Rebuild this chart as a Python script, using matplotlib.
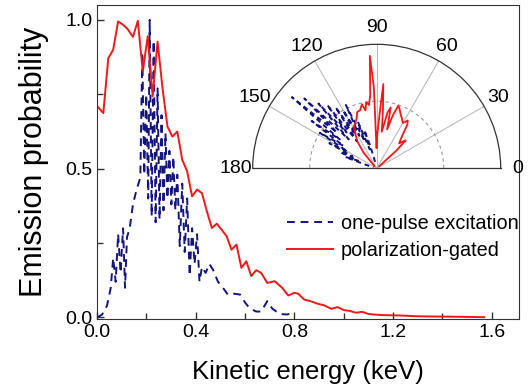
import numpy as np
import matplotlib.pyplot as plt

plt.rcParams['font.family'] = ['Liberation Sans', 'DejaVu Sans']

# main panel: emission probability vs kinetic energy
red_e = [0.0, 0.025, 0.045, 0.065, 0.085, 0.105, 0.125, 0.145, 0.165, 0.185,
         0.205, 0.225, 0.245, 0.265, 0.285, 0.305, 0.325, 0.345, 0.365, 0.385,
         0.405, 0.425, 0.445, 0.465, 0.485, 0.505, 0.525, 0.545, 0.565, 0.585,
         0.605, 0.625, 0.645, 0.665, 0.69, 0.72, 0.75, 0.775, 0.8, 0.815,
         0.84, 0.865, 0.895, 0.92, 0.95, 0.975, 1.0, 1.025, 1.05, 1.075,
         1.1, 1.12, 1.16, 1.22, 1.3, 1.4, 1.5, 1.57]
red_p = [0.71, 0.687, 0.871, 0.90, 0.995, 0.984, 0.968, 0.943, 0.997, 0.827,
         0.945, 0.743, 0.927, 0.771, 0.642, 0.608, 0.625, 0.53, 0.491, 0.407,
         0.43, 0.418, 0.357, 0.301, 0.315, 0.295, 0.273, 0.228, 0.245, 0.167,
         0.189, 0.139, 0.159, 0.15, 0.116, 0.122, 0.10, 0.074, 0.083, 0.08,
         0.06, 0.055, 0.046, 0.041, 0.029, 0.035, 0.025, 0.022, 0.016, 0.019,
         0.012, 0.010, 0.008, 0.007, 0.004, 0.003, 0.002, 0.001]

blue_e = [0.0, 0.02, 0.04, 0.055, 0.065, 0.075, 0.085, 0.095, 0.105, 0.113,
          0.121, 0.132, 0.145, 0.16, 0.175, 0.183, 0.191, 0.199, 0.207, 0.213,
          0.221, 0.229, 0.237, 0.245, 0.253, 0.261, 0.269, 0.277, 0.285, 0.293,
          0.301, 0.309, 0.317, 0.325, 0.335, 0.345, 0.355, 0.365, 0.375, 0.385,
          0.395, 0.405, 0.415, 0.425, 0.44, 0.455, 0.47, 0.49, 0.51, 0.53,
          0.555, 0.58, 0.60, 0.62, 0.645, 0.665, 0.69, 0.71, 0.74, 0.77, 0.79]
blue_p = [0.0, 0.01, 0.04, 0.10, 0.20, 0.12, 0.28, 0.15, 0.30, 0.10,
          0.27, 0.30, 0.38, 0.43, 0.47, 0.89, 0.48, 0.75, 0.40, 1.0,
          0.34, 0.93, 0.32, 0.77, 0.33, 0.68, 0.36, 0.62, 0.40, 0.56,
          0.38, 0.54, 0.36, 0.48, 0.24, 0.45, 0.22, 0.40, 0.14, 0.30,
          0.18, 0.28, 0.12, 0.17, 0.15, 0.18, 0.16, 0.12, 0.10, 0.077,
          0.08, 0.077, 0.05, 0.03, 0.02, 0.02, 0.055, 0.03, 0.012, 0.01, 0.015]

# inset: angular distributions (degrees, radius in units of the dashed circle)
red_theta = [38, 42, 44, 46, 48, 52, 55, 57, 60, 63, 66, 69, 71, 73, 75,
             77, 79, 82, 84, 85.5, 87, 89, 90.5, 92, 93.5, 95, 97, 99, 101,
             103, 106, 109, 112, 115, 118, 122, 126, 130, 134]
red_r = [0.05, 0.4, 0.6, 0.55, 0.5, 0.62, 0.8, 0.85, 0.78, 0.83, 0.88, 0.95,
         0.99, 0.83, 0.6, 0.93, 0.85, 0.55, 0.9, 1.26, 0.8, 0.5, 0.3, 1.2,
         1.68, 1.1, 0.95, 1.0, 0.88, 0.98, 0.9, 0.89, 0.8, 0.75, 0.72, 0.6,
         0.48, 0.3, 0.05]

blue_theta = [104, 106, 108, 110, 112, 114, 116, 118, 120, 122, 124, 126,
              128, 130, 132, 134, 136, 138, 140, 142, 144, 146, 148, 150,
              152, 154, 156, 158, 160, 162, 164]
blue_r = [0.1, 0.35, 0.6, 0.3, 0.75, 0.45, 1.05, 0.55, 1.0, 0.6, 1.1, 0.5,
          1.2, 0.7, 1.3, 0.6, 1.5, 0.8, 1.65, 0.7, 1.2, 0.6, 1.0, 0.5, 0.8,
          0.4, 0.6, 0.3, 0.5, 0.2, 0.05]

red = '#f01818'
blue = '#141480'
spine = '#333333'

fig = plt.figure(figsize=(5.31, 3.89), dpi=100)
ax = fig.add_axes([0.183, 0.18, 0.794, 0.807])

ax.plot(blue_e, blue_p, color=blue, lw=1.4, ls=(0, (4, 3)),
        label='one-pulse excitation')
ax.plot(red_e, red_p, color=red, lw=1.4, label='polarization-gated')

ax.set_xlim(0, 1.71)
ax.set_ylim(-0.005, 1.05)
ax.set_xticks([0.0, 0.4, 0.8, 1.2, 1.6])
ax.set_xticks([0.2, 0.6, 1.0, 1.4], minor=True)
ax.set_yticks([0.0, 0.5, 1.0])
ax.set_yticks([0.25, 0.75], minor=True)
ax.xaxis.set_major_formatter(plt.FormatStrFormatter('%.1f'))
ax.yaxis.set_major_formatter(plt.FormatStrFormatter('%.1f'))
ax.tick_params(which='both', direction='in', labelsize=14, color=spine,
               top=False, right=False)
ax.tick_params(which='major', length=5, width=1)
ax.tick_params(which='minor', length=4, width=1)
for s in ax.spines.values():
    s.set_color(spine)
ax.set_xlabel('Kinetic energy (keV)', fontsize=18.5, labelpad=14)
ax.set_ylabel('Emission probability', fontsize=22, labelpad=12)

ax.legend(loc='upper right', bbox_to_anchor=(1.0, 0.335), frameon=False,
          fontsize=14.3, handlelength=2.3, handletextpad=0.4,
          labelspacing=0.4, borderpad=0, borderaxespad=0)

# polar inset: the half disc is drawn centred in a square box
cx, cy, rad = 376.7, 168.3, 124
pax = fig.add_axes([(cx - rad) / 531, 1 - (cy + 0.5 * rad) / 389,
                    2 * rad / 531, 2 * rad / 389], projection='polar')
pax.set_thetamin(0)
pax.set_thetamax(180)
pax.set_rlim(0, 1.85)
pax.plot(np.deg2rad(blue_theta), blue_r, color=blue, lw=1.4, ls=(0, (2.5, 2)))
pax.plot(np.deg2rad(red_theta), red_r, color=red, lw=1.3)
pax.set_xticks(np.deg2rad([0, 30, 60, 90, 120, 150, 180]))
pax.set_xticklabels(['0', '30', '60', '90', '120', '150', '180'])
pax.set_xticks(np.deg2rad([15, 45, 75, 105, 135, 165]), minor=True)
pax.set_yticks([1.0])
pax.set_yticklabels([])
pax.tick_params(axis='x', which='both', direction='in', length=3,
                color=spine, labelsize=14, pad=5)
pax.xaxis.grid(True, color='#bbbbbb', lw=0.8, ls='-')
pax.yaxis.grid(True, color='#999999', lw=0.8, ls=(0, (3, 3)))
for s in pax.spines.values():
    s.set_color(spine)
    s.set_linewidth(0.9)

fig.savefig('out.png', dpi=100)
